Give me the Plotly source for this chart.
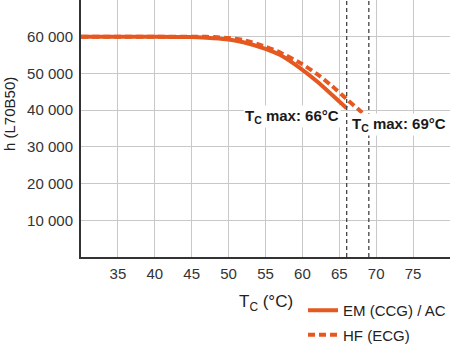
import plotly.graph_objects as go

# Data
tc_em = [30, 35, 40, 45, 48, 50, 52, 55, 57, 60, 62, 64, 66]
h_em = [60000, 60000, 60000, 59900, 59600, 59250, 58500, 56700, 55000, 51000, 47800, 44200, 40500]

tc_hf = [30, 35, 40, 46, 48, 50, 52, 55, 57, 60, 62, 64, 66, 68, 69]
h_hf = [60000, 60000, 60000, 60000, 59900, 59650, 59100, 57300, 55700, 52500, 49800, 46600, 43000, 39500, 37700]

tc_max = [66, 69]
tc_max_labels = ["T<sub>C</sub> max: 66°C", "T<sub>C</sub> max: 69°C"]

x_ticks = [35, 40, 45, 50, 55, 60, 65, 70, 75]
y_ticks = [10000, 20000, 30000, 40000, 50000, 60000]

series_names = ["EM (CCG) / AC", "HF (ECG)"]

ORANGE = "#E5581F"
FONT = "Liberation Sans, Arial, sans-serif"

fig = go.Figure()
fig.add_trace(go.Scatter(
    x=tc_em, y=h_em, mode="lines", name=series_names[0],
    line=dict(color=ORANGE, width=4, shape="spline", smoothing=0.6),
    legendgroup="a",
))
fig.add_trace(go.Scatter(
    x=tc_hf, y=h_hf, mode="lines", name=series_names[1],
    line=dict(color=ORANGE, width=4, dash="7px,4px", shape="spline", smoothing=0.6),
    legendgroup="b",
))

for xv in tc_max:
    fig.add_shape(type="line", x0=xv, x1=xv, xref="x", y0=0, y1=1, yref="paper",
                  line=dict(color="#444444", width=1.3, dash="4px,3px"), layer="above")

fig.add_annotation(x=65.2, y=38300, xref="x", yref="y", text="<b>" + tc_max_labels[0] + "</b>",
                   showarrow=False, xanchor="right", yanchor="middle",
                   font=dict(family=FONT, size=15, color="#1a1a1a"),
                   bgcolor="white", borderpad=1)
fig.add_annotation(x=66.5, y=36000, xref="x", yref="y", text="<b>" + tc_max_labels[1] + "</b>",
                   showarrow=False, xanchor="left", yanchor="middle",
                   font=dict(family=FONT, size=15, color="#1a1a1a"),
                   bgcolor="white", borderpad=1)

# axis titles
fig.add_annotation(x=0.5, y=-46/257, xref="paper", yref="paper",
                   text="T<sub>C</sub> (°C)", showarrow=False,
                   xanchor="center", yanchor="middle",
                   font=dict(family=FONT, size=17, color="#222222"))
fig.add_annotation(x=-72/369, y=1 - 114/257, xref="paper", yref="paper",
                   text="h (L70B50)", showarrow=False, textangle=-90,
                   xanchor="center", yanchor="middle",
                   font=dict(family=FONT, size=15, color="#222222"))

fig.update_xaxes(
    range=[30, 80], tickvals=x_ticks, showgrid=True, gridcolor="#c8c8c8", gridwidth=1,
    showline=True, linecolor="#333333", linewidth=2, zeroline=False,
    ticks="", ticklabelstandoff=2,
    tickfont=dict(family=FONT, size=15, color="#333333"),
)
fig.update_yaxes(
    range=[0, 70000], tickvals=y_ticks, tickformat=",d", showgrid=True,
    gridcolor="#c8c8c8", gridwidth=1,
    showline=True, linecolor="#333333", linewidth=2, zeroline=False,
    ticks="", ticklabelstandoff=3,
    tickfont=dict(family=FONT, size=15, color="#333333"),
)

fig.update_layout(
    width=450, height=345,
    margin=dict(l=81, r=0, t=0, b=88, autoexpand=False),
    paper_bgcolor="white", plot_bgcolor="white",
    separators=". ",
    showlegend=True,
    legend=dict(x=(303 - 81) / 369, y=1 - 294 / 257, xanchor="left", yanchor="top",
                font=dict(family=FONT, size=15, color="#222222"),
                bgcolor="rgba(0,0,0,0)", tracegroupgap=2, itemwidth=30),
    font=dict(family=FONT),
)

fig.write_html("out.html")
